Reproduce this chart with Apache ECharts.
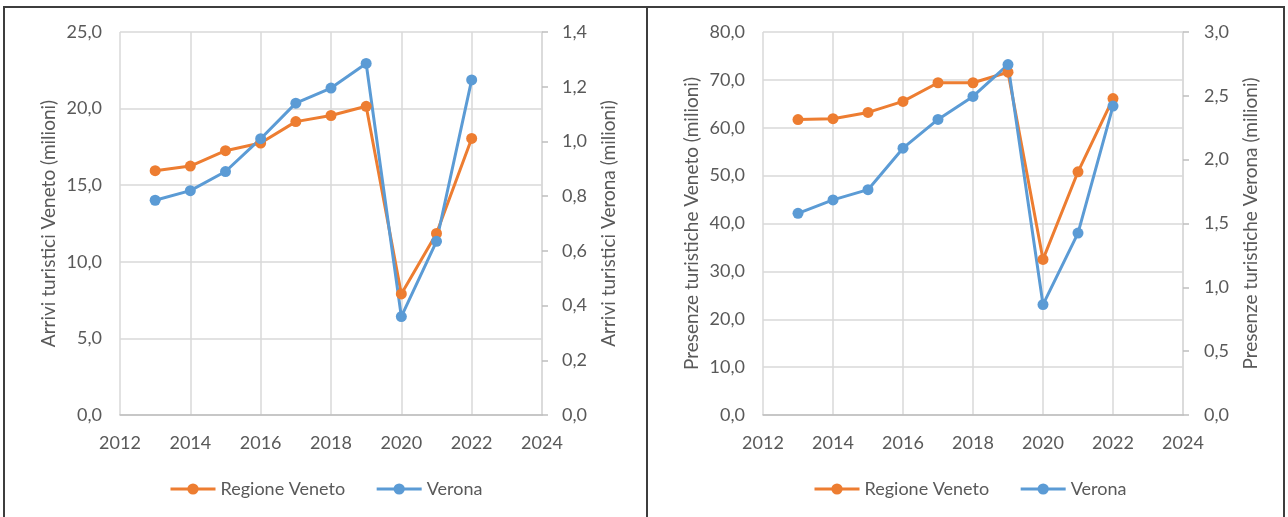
<!DOCTYPE html>
<html>
<head>
<meta charset="utf-8">
<title>Arrivi e presenze turistiche - Veneto e Verona</title>
<script src="https://cdn.jsdelivr.net/npm/echarts@6/dist/echarts.min.js"></script>
<style>
    html, body { margin: 0; padding: 0; background: #fff; }
    #wrap { position: relative; width: 1288px; height: 517px; overflow: hidden; }
    .panel { position: absolute; top: 6px; height: 560px; border: 2px solid #3d3d3d; box-sizing: border-box; }
    #p1 { left: 3px; width: 645px; }
    #p2 { left: 646px; width: 639px; }
    #chart { position: absolute; left: 0; top: 0; width: 1288px; height: 517px; }
</style>
</head>
<body>
<div id="wrap">
    <div class="panel" id="p1"></div>
    <div class="panel" id="p2"></div>
    <div id="chart"></div>
</div>
<script>
var years = [2013, 2014, 2015, 2016, 2017, 2018, 2019, 2020, 2021, 2022];
var seriesNames = ["Regione Veneto", "Verona"];
// arrivi (milioni)
var arriviVeneto = [15.95, 16.25, 17.25, 17.75, 19.15, 19.55, 20.15, 7.9, 11.85, 18.05];
var arriviVerona = [0.785, 0.82, 0.89, 1.01, 1.14, 1.195, 1.285, 0.36, 0.635, 1.225];
// presenze (milioni)
var presenzeVeneto = [61.7, 61.9, 63.2, 65.5, 69.4, 69.4, 71.6, 32.5, 50.8, 66.1];
var presenzeVerona = [1.58, 1.685, 1.765, 2.09, 2.315, 2.495, 2.745, 0.865, 1.425, 2.42];
// assi
var yearMin = 2012, yearMax = 2024, yearStep = 2;
var arriviAxis = [25, 5], arriviVrAxis = [1.4, 0.2];
var presenzeAxis = [80, 10], presenzeVrAxis = [3, 0.5];

(function(window, echarts) {
    var grey = "#595959",
        gridColor = "#d9d9d9",
        font = "Lato",
        orange = "#ED7D31",
        blue = "#5B9BD5";

    function comma(v) {
        return v.toFixed(1).replace(".", ",");
    }

    function pairs(vals) {
        return years.map(function(y, i) {
            return [y, vals[i]];
        });
    }

    function xAxis(idx) {
        return {
            type: "value",
            gridIndex: idx,
            min: yearMin,
            max: yearMax,
            interval: yearStep,
            axisLine: { show: true, lineStyle: { color: "#bfbfbf", width: 1.5 } },
            axisTick: { show: false },
            splitLine: { show: true, lineStyle: { color: gridColor, width: 1.5 } },
            axisLabel: {
                color: grey, fontFamily: font, fontSize: 18, margin: 19,
                formatter: function(v) { return String(v); }
            }
        };
    }

    function yAxis(idx, ax, right, name, gap, labelMargin) {
        return {
            type: "value",
            gridIndex: idx,
            position: right ? "right" : "left",
            min: 0,
            max: ax[0],
            interval: ax[1],
            name: name,
            nameLocation: "middle",
            nameRotate: 90,
            nameGap: gap,
            nameTextStyle: { color: grey, fontFamily: font, fontSize: 19 },
            axisLine: { show: right, lineStyle: { color: gridColor, width: 1.5 } },
            axisTick: { show: right, length: 6, lineStyle: { color: "#bfbfbf", width: 1.5 } },
            splitLine: { show: !right, lineStyle: { color: gridColor, width: 1.5 } },
            axisLabel: { color: grey, fontFamily: font, fontSize: 18, margin: labelMargin, formatter: comma }
        };
    }

    function line(name, color, data, idx, yIdx) {
        return {
            type: "line",
            name: name,
            xAxisIndex: idx,
            yAxisIndex: yIdx,
            data: pairs(data),
            color: color,
            symbol: "circle",
            symbolSize: 11,
            lineStyle: { width: 3, color: color },
            itemStyle: { color: color },
            animation: false
        };
    }

    function legend(left) {
        return {
            data: seriesNames,
            left: left,
            top: 475,
            itemWidth: 45,
            itemHeight: 14,
            itemGap: 30,
            lineStyle: { width: 3 },
            textStyle: { color: grey, fontFamily: font, fontSize: 18 }
        };
    }

    var chart = echarts.init(document.getElementById("chart"), null, { renderer: "canvas" });

    var option = {
        backgroundColor: "transparent",
        animation: false,
        legend: [legend(164), legend(808)],
        grid: [
            { left: 120, top: 32, width: 422, height: 383 },
            { left: 763, top: 32, width: 420, height: 383 }
        ],
        xAxis: [xAxis(0), xAxis(1)],
        yAxis: [
            yAxis(0, arriviAxis, false, "Arrivi turistici Veneto (milioni)", 62, 18),
            yAxis(0, arriviVrAxis, true, "Arrivi turistici Verona (milioni)", 57, 20),
            yAxis(1, presenzeAxis, false, "Presenze turistiche Veneto (milioni)", 62, 18),
            yAxis(1, presenzeVrAxis, true, "Presenze turistiche Verona (milioni)", 58, 21)
        ],
        series: [
            line(seriesNames[0], orange, arriviVeneto, 0, 0),
            line(seriesNames[1], blue, arriviVerona, 0, 1),
            line(seriesNames[0], orange, presenzeVeneto, 1, 2),
            line(seriesNames[1], blue, presenzeVerona, 1, 3)
        ]
    };

    chart.setOption(option);
    window.chart = chart;
})(window, echarts);
</script>
</body>
</html>
